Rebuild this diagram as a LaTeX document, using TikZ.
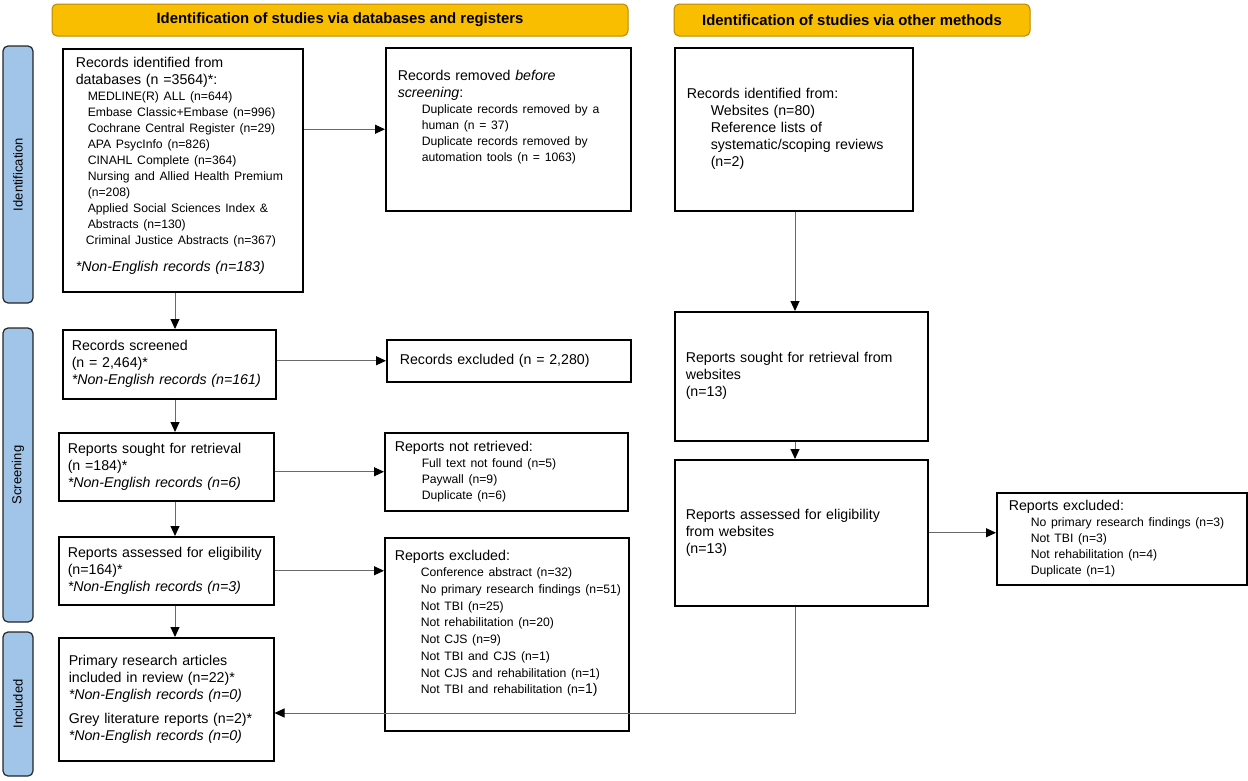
\documentclass[tikz,border=0pt]{standalone}
\usepackage{fontspec}
\setmainfont{Liberation Sans}
\usetikzlibrary{arrows.meta, positioning, calc}
\definecolor{headgold}{RGB}{250,190,0}
\definecolor{headedge}{RGB}{185,135,0}
\definecolor{tabblue}{RGB}{160,197,232}
\definecolor{linkgray}{RGB}{105,105,105}
\newcommand{\subln}[2][24pt]{\mbox{\hspace*{#1}#2}}
\newcommand{\subfont}{\fontsize{12.2}{16}\selectfont}

\begin{document}
\begin{tikzpicture}[
    x=1pt, y=-1pt,
    header/.style={draw=headedge, line width=1pt, fill=headgold, rounded corners=5pt, minimum height=32pt, font=\fontsize{14.9}{17}\selectfont\bfseries},
    phase/.style={draw=black!85, line width=1.2pt, fill=tabblue, rounded corners=5pt, minimum height=30pt, rotate=90, font=\fontsize{13}{15}\selectfont},
    box/.style={draw, line width=1.5pt, align=left, inner xsep=12pt, inner ysep=6pt, font=\fontsize{14.2}{17}\selectfont, anchor=north west},
    arrow/.style={draw=linkgray, line width=1pt, -{Triangle[length=10pt, width=9pt, color=black]}}
]
    \useasboundingbox (0,0) rectangle (1248,780);

    % Phase tabs and headers
    \node[phase, minimum width=257pt] (tabid) at (18,174.5) {Identification};
    \node[phase, minimum width=294pt] (tabscr) at (18,475) {Screening};
    \node[phase, minimum width=144pt] (tabinc) at (18,704) {Included};
    \node[header, minimum width=576pt] (headdb) at (340,20) {Identification of studies via databases and registers};
    \node[header, minimum width=356pt] (headother) at (852,20) {Identification of studies via other methods};

    % Databases and registers
    \node[box, minimum width=240pt, minimum height=243pt, inner xsep=13pt, text width=214pt] (ident) at (62,48) {Records identified from\\
        databases (n =3564)*:\par
        {\subfont
        \subln[12pt]{MEDLINE(R) ALL (n=644)}\\
        \subln[12pt]{Embase Classic+Embase (n=996)}\\
        \subln[12pt]{Cochrane Central Register (n=29)}\\
        \subln[12pt]{APA PsycInfo (n=826)}\\
        \subln[12pt]{CINAHL Complete (n=364)}\\
        \subln[12pt]{Nursing and Allied Health Premium}\\
        \subln[12pt]{(n=208)}\\
        \subln[12pt]{Applied Social Sciences Index \&}\\
        \subln[12pt]{Abstracts (n=130)}\\
        \subln[10pt]{Criminal Justice Abstracts (n=367)}\par}
        \vspace{10pt}
        \textit{*Non-English records (n=183)}\par
        \kern8pt};
    \node[box, minimum width=213pt, minimum height=69pt, inner xsep=9pt, text width=195pt] (screened) at (62,329) {Records screened\\
        (n = 2,464)*\\
        \textit{*Non-English records (n=161)}};
    \node[box, minimum width=215pt, minimum height=68pt, inner xsep=9pt, text width=197pt] (sought) at (58,432) {Reports sought for retrieval\\
        (n =184)*\\
        \textit{*Non-English records (n=6)}};
    \node[box, minimum width=215pt, minimum height=68pt, inner xsep=9pt, text width=197pt] (assessed) at (58,536) {Reports assessed for eligibility\\
        (n=164)*\\
        \textit{*Non-English records (n=3)}};
    \node[box, minimum width=215pt, minimum height=123pt, inner xsep=10pt, text width=195pt] (incl) at (58,637) {Primary research articles\\
        included in review (n=22)*\\
        \textit{*Non-English records (n=0)}\par
        \vspace{7pt}
        Grey literature reports (n=2)*\\
        \textit{*Non-English records (n=0)}};

    % Removed and excluded
    \node[box, minimum width=245pt, minimum height=163pt, text width=221pt] (removed) at (385,47) {Records removed \textit{before}\\
        \textit{screening}:\par
        {\subfont
        \subln{Duplicate records removed by a}\\
        \subln{human (n = 37)}\\
        \subln{Duplicate records removed by}\\
        \subln{automation tools (n = 1063)}\par}
        \kern24pt};
    \node[box, minimum width=244pt, minimum height=42pt, inner xsep=13pt, text width=218pt] (excl) at (386,339) {Records excluded (n = 2,280)};
    \node[box, minimum width=243pt, minimum height=78pt, inner xsep=10pt, text width=223pt] (notretr) at (384,432) {Reports not retrieved:\par
        {\subfont
        \subln[27pt]{Full text not found (n=5)}\\
        \subln[27pt]{Paywall (n=9)}\\
        \subln[27pt]{Duplicate (n=6)}\par}};
    \node[box, minimum width=244pt, minimum height=193pt, inner xsep=8pt, text width=228pt] (rexcl) at (384,537) {\hspace*{2pt}Reports excluded:\par
        {\fontsize{12.2}{16.7}\selectfont
        \subln[28pt]{Conference abstract (n=32)}\\
        \subln[28pt]{No primary research findings (n=51)}\\
        \subln[28pt]{Not TBI (n=25)}\\
        \subln[28pt]{Not rehabilitation (n=20)}\\
        \subln[28pt]{Not CJS (n=9)}\\
        \subln[28pt]{Not TBI and CJS (n=1)}\\
        \subln[28pt]{Not CJS and rehabilitation (n=1)}\\
        \subln[28pt]{Not TBI and rehabilitation (n={\fontsize{14}{16}\selectfont 1)}}\par}
        \kern22pt};

    % Other methods
    \node[box, minimum width=238pt, minimum height=163pt, text width=214pt] (other) at (674,47) {Records identified from:\\
        \subln{Websites (n=80)}\\
        \subln{Reference lists of}\\
        \subln{systematic/scoping reviews}\\
        \subln{(n=2)}};
    \node[box, minimum width=253pt, minimum height=129pt, inner xsep=11pt, text width=231pt] (sought2) at (674,311) {Reports sought for retrieval from\\
        websites\\
        (n=13)};
    \node[box, minimum width=253pt, minimum height=146pt, inner xsep=11pt, text width=231pt] (assessed2) at (674,459) {Reports assessed for eligibility\\
        from websites\\
        (n=13)};
    \node[box, minimum width=250pt, minimum height=92pt, text width=226pt] (rexcl2) at (996,492) {Reports excluded:\par
        {\subfont
        \subln[22pt]{No primary research findings (n=3)}\\
        \subln[22pt]{Not TBI (n=3)}\\
        \subln[22pt]{Not rehabilitation (n=4)}\\
        \subln[22pt]{Duplicate (n=1)}\par}};

    % Connectors
    \coordinate (leftaxis) at (175,0);
    \coordinate (rightaxis) at (795,0);
    \coordinate (merge) at (795,713);
    \draw[arrow] (ident.east |- removed.west) -- (removed.west);
    \draw[arrow] (leftaxis |- ident.south) -- (leftaxis |- screened.north);
    \draw[arrow] (screened.east |- excl.west) -- (excl.west);
    \draw[arrow] (leftaxis |- screened.south) -- (leftaxis |- sought.north);
    \draw[arrow] (sought.east |- notretr.west) -- (notretr.west);
    \draw[arrow] (leftaxis |- sought.south) -- (leftaxis |- assessed.north);
    \draw[arrow] (assessed.east) -- (assessed.east -| rexcl.west);
    \draw[arrow] (leftaxis |- assessed.south) -- (leftaxis |- incl.north);
    \draw[arrow] (rightaxis |- other.south) -- (rightaxis |- sought2.north);
    \draw[arrow] (rightaxis |- sought2.south) -- (rightaxis |- assessed2.north);
    \draw[arrow] (assessed2.east) -- (assessed2.east -| rexcl2.west);
    \draw[arrow] (rightaxis |- assessed2.south) -- (merge) -- (merge -| incl.east);
\end{tikzpicture}
\end{document}
